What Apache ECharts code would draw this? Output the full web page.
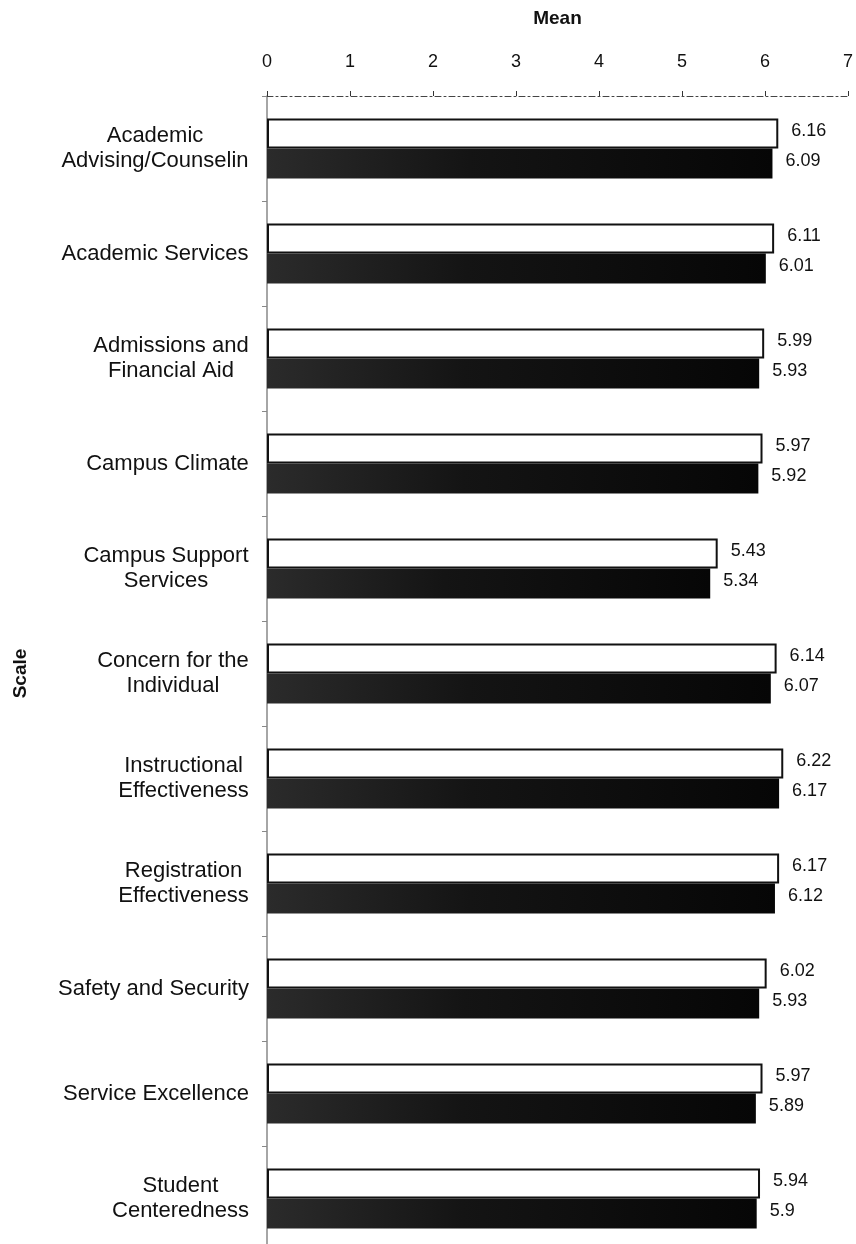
<!DOCTYPE html>
<html>
<head>
<meta charset="utf-8">
<script src="https://cdn.jsdelivr.net/npm/echarts@6/dist/echarts.min.js"></script>
<style>
  html, body { margin: 0; padding: 0; background: #fff; }
  #chart { width: 856px; height: 1244px; }
</style>
</head>
<body>
<div id="chart"></div>
<script>
const categories = [
  "Academic\nAdvising/Counselin",
  "Academic Services",
  "Admissions and\nFinancial Aid",
  "Campus Climate",
  "Campus Support\nServices",
  "Concern for the\nIndividual",
  "Instructional\nEffectiveness",
  "Registration\nEffectiveness",
  "Safety and Security",
  "Service Excellence",
  "Student\nCenteredness"
];
const seriesA = [6.16, 6.11, 5.99, 5.97, 5.43, 6.14, 6.22, 6.17, 6.02, 5.97, 5.94];
const seriesB = [6.09, 6.01, 5.93, 5.92, 5.34, 6.07, 6.17, 6.12, 5.93, 5.89, 5.9];
const xTicks = [0, 1, 2, 3, 4, 5, 6, 7];

const FONT = '"Liberation Sans", Arial, sans-serif';

// measure each label so two-line labels get centred lines in a right-aligned block
const ctx = document.createElement("canvas").getContext("2d");
ctx.font = '22px "Liberation Sans"';
const rich = {};
categories.forEach((c, i) => {
  const w = Math.max(...c.split("\n").map(l => ctx.measureText(l).width));
  rich["c" + i] = { width: Math.ceil(w), align: "center", fontSize: 22, lineHeight: 25, fontFamily: FONT, color: "#111" };
});

const chart = echarts.init(document.getElementById("chart"));

const labelStyle = {
  show: true,
  position: "right",
  distance: 13,
  fontSize: 18,
  color: "#111",
  fontFamily: FONT,
  offset: [0, -2]
};

const option = {
  backgroundColor: "#fff",
  animation: false,
  grid: { left: 267, right: 8, top: 96, height: 1155, outerBoundsMode: "none", containLabel: false },
  xAxis: {
    type: "value",
    position: "top",
    min: xTicks[0],
    max: xTicks[xTicks.length - 1],
    interval: 1,
    name: "Mean",
    nameLocation: "middle",
    nameGap: 68,
    nameTextStyle: { fontSize: 19, fontWeight: "bold", color: "#111", fontFamily: FONT },
    axisLine: { show: true, lineStyle: { color: "#444", type: [6, 3, 2, 3], width: 1 } },
    axisTick: { show: true, length: 5, lineStyle: { color: "#333" } },
    axisLabel: { fontSize: 18, color: "#111", margin: 25, fontFamily: FONT },
    splitLine: { show: false }
  },
  yAxis: {
    type: "category",
    inverse: true,
    data: categories,
    name: "Scale",
    nameLocation: "middle",
    nameGap: 237,
    nameRotate: 90,
    nameTextStyle: { fontSize: 19, fontWeight: "bold", color: "#111", fontFamily: FONT },
    axisLine: { show: true, lineStyle: { color: "#888", width: 1.5 } },
    axisTick: { show: true, length: 5, lineStyle: { color: "#888" } },
    axisLabel: {
      margin: 18,
      formatter: (v, i) => v.split("\n").map(l => `{c${i}|${l}}`).join("\n"),
      rich: rich
    }
  },
  series: [
    {
      name: "A",
      type: "bar",
      data: seriesA,
      barWidth: 30,
      barGap: "0%",
      itemStyle: { color: "#fff", borderColor: "#111", borderWidth: 2 },
      label: labelStyle
    },
    {
      name: "B",
      type: "bar",
      data: seriesB,
      barWidth: 30,
      itemStyle: {
        color: new echarts.graphic.LinearGradient(0, 0, 1, 0, [
          { offset: 0, color: "#2b2b2b" },
          { offset: 0.4, color: "#141414" },
          { offset: 1, color: "#060606" }
        ])
      },
      label: labelStyle
    }
  ]
};

chart.setOption(option);
</script>
</body>
</html>
